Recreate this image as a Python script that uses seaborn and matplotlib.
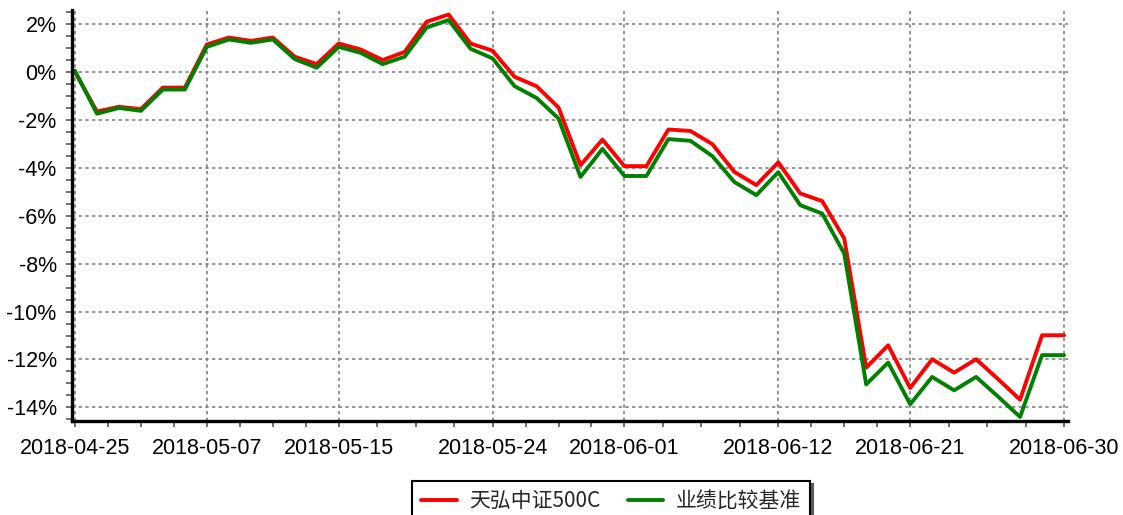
import numpy as np
import pandas as pd
import matplotlib
matplotlib.use("Agg")
import matplotlib.pyplot as plt
import seaborn as sns
from matplotlib.ticker import FuncFormatter, AutoMinorLocator, FixedLocator, MultipleLocator

# trading days (plus the quarter-end date)
dates = [
    "2018-04-25", "2018-04-26", "2018-04-27", "2018-05-02", "2018-05-03", "2018-05-04",
    "2018-05-07", "2018-05-08", "2018-05-09", "2018-05-10", "2018-05-11",
    "2018-05-14", "2018-05-15", "2018-05-16", "2018-05-17", "2018-05-18",
    "2018-05-21", "2018-05-22", "2018-05-23", "2018-05-24", "2018-05-25",
    "2018-05-28", "2018-05-29", "2018-05-30", "2018-05-31", "2018-06-01",
    "2018-06-04", "2018-06-05", "2018-06-06", "2018-06-07", "2018-06-08",
    "2018-06-11", "2018-06-12", "2018-06-13", "2018-06-14", "2018-06-15",
    "2018-06-19", "2018-06-20", "2018-06-21", "2018-06-22",
    "2018-06-25", "2018-06-26", "2018-06-27", "2018-06-28", "2018-06-29", "2018-06-30",
]
tick_dates = ["2018-04-25", "2018-05-07", "2018-05-15", "2018-05-24",
              "2018-06-01", "2018-06-12", "2018-06-21", "2018-06-30"]

fund_name = "天弘中证500C"
bench_name = "业绩比较基准"

# cumulative return, %
fund = [0.00, -1.65, -1.45, -1.55, -0.65, -0.65, 1.15, 1.44, 1.30, 1.44,
        0.64, 0.33, 1.19, 0.94, 0.50, 0.84, 2.10, 2.40, 1.19, 0.89,
        -0.20, -0.59, -1.48, -3.89, -2.82, -3.93, -3.93, -2.40, -2.46, -3.01,
        -4.17, -4.72, -3.77, -5.07, -5.39, -6.95, -12.34, -11.41, -13.19, -11.99,
        -12.55, -11.99, -12.82, -13.68, -10.99, -10.99]
bench = [0.05, -1.74, -1.50, -1.62, -0.73, -0.73, 1.05, 1.36, 1.22, 1.36,
         0.54, 0.18, 1.05, 0.80, 0.33, 0.64, 1.86, 2.17, 0.97, 0.57,
         -0.59, -1.08, -1.94, -4.38, -3.21, -4.34, -4.34, -2.80, -2.87, -3.51,
         -4.59, -5.14, -4.18, -5.56, -5.91, -7.58, -13.04, -12.13, -13.87, -12.73,
         -13.29, -12.73, -13.55, -14.40, -11.82, -11.82]

pos = np.arange(len(dates))
df = pd.concat([
    pd.DataFrame({"pos": pos, "date": dates, "ret": fund, "name": fund_name}),
    pd.DataFrame({"pos": pos, "date": dates, "ret": bench, "name": bench_name}),
])

sns.set_style("white")
plt.rcParams["font.family"] = ["Liberation Sans", "Noto Sans CJK SC", "DejaVu Sans"]

fig = plt.figure(figsize=(11.23, 5.15), dpi=100)
ax = fig.add_axes([0.0641, 0.1825, 0.8869, 0.7981])

sns.lineplot(data=df, x="pos", y="ret", hue="name",
             palette={fund_name: "#ff0000", bench_name: "#008000"},
             linewidth=2.8, ax=ax)

# axes range
ax.set_xlim(-0.136, 45.18)
ax.set_ylim(-14.57, 2.59)

# ticks
major_pos = [dates.index(d) for d in tick_dates]
ax.xaxis.set_major_locator(FixedLocator(major_pos))
ax.set_xticklabels(tick_dates)
minor_pos = []
for a, b in zip(major_pos[:-1], major_pos[1:]):
    minor_pos += list(np.linspace(a, b, 5)[1:-1])
ax.xaxis.set_minor_locator(FixedLocator(minor_pos))
ax.yaxis.set_major_locator(MultipleLocator(2))
ax.yaxis.set_minor_locator(AutoMinorLocator(4))
ax.yaxis.set_major_formatter(FuncFormatter(lambda v, p: f"{v:.0f}%"))

ax.tick_params(axis="both", which="both", direction="out", length=4,
               width=1.2, color="#555555", labelsize=15.5, labelcolor="black")
ax.tick_params(axis="x", which="both", bottom=True, pad=8)
ax.tick_params(axis="y", which="both", left=True, pad=7)
ax.set_xlabel("")
ax.set_ylabel("")

# grid
ax.grid(True, which="major", color="#808080", linestyle=(0, (2, 2)), linewidth=1.2)
ax.set_axisbelow(True)

# spines
for s in ["top", "right"]:
    ax.spines[s].set_visible(False)
for s in ["left", "bottom"]:
    ax.spines[s].set_color("black")
    ax.spines[s].set_linewidth(2.4)

# legend
handles, labels = ax.get_legend_handles_labels()
ax.get_legend().remove()
leg = ax.legend(handles, labels, loc="upper center",
                bbox_to_anchor=(611 / 1123, 1 - 481 / 515),
                bbox_transform=fig.transFigure, ncol=2, frameon=True,
                fancybox=False, shadow={"color": "0.35", "alpha": 1},
                edgecolor="black", handlelength=1.7, handletextpad=0.6,
                columnspacing=1.3, borderpad=0.45, borderaxespad=0,
                prop={"family": ["Noto Sans CJK SC", "DejaVu Sans"], "size": 15})
leg.get_frame().set_linewidth(1.5)

fig.savefig("out.png", dpi=100)
